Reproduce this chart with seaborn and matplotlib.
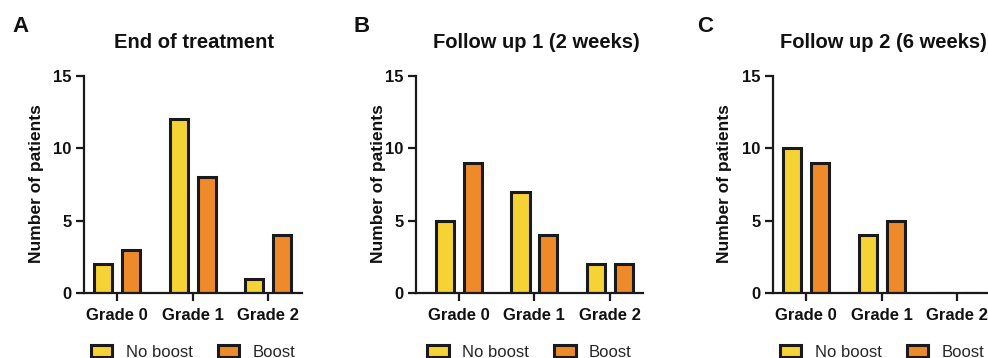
import pandas as pd
import seaborn as sns
import matplotlib.pyplot as plt
from matplotlib.patches import Patch

grades = ["Grade 0", "Grade 1", "Grade 2"]
groups = ["No boost", "Boost"]
titles = ["End of treatment", "Follow up 1 (2 weeks)", "Follow up 2 (6 weeks)"]
panel_letters = ["A", "B", "C"]

end_no_boost = [2, 12, 1]
end_boost = [3, 8, 4]
fu1_no_boost = [5, 7, 2]
fu1_boost = [9, 4, 2]
fu2_no_boost = [10, 4, 0]
fu2_boost = [9, 5, 0]

yticks = [0, 5, 10, 15]
colors = {"No boost": "#F5D334", "Boost": "#EE8A2A"}
edge = "#1a1a1a"

series = [(end_no_boost, end_boost), (fu1_no_boost, fu1_boost), (fu2_no_boost, fu2_boost)]

sns.set_theme(style="ticks")
plt.rcParams["font.family"] = ["Liberation Sans", "DejaVu Sans"]

fig = plt.figure(figsize=(9.88, 3.58), dpi=100)
W, H = 988, 358

# axes boxes in pixels: left, right, and x-limits
boxes = [(84, 302, (-0.44, 2.45)), (416, 643, (-0.57, 2.44)), (773, 991, (-0.44, 2.45))]
top_px, bottom_px = 76, 293
title_x = [194, 536, 883]
letter_x = [20, 362, 705]
ylabel_x = [37, 378, 725]

for i, ((l, r, xlim), (nb, b)) in enumerate(zip(boxes, series)):
    ax = fig.add_axes([l / W, (H - bottom_px) / H, (r - l) / W, (bottom_px - top_px) / H])
    df = pd.DataFrame({
        "Grade": grades * 2,
        "Group": [groups[0]] * 3 + [groups[1]] * 3,
        "Patients": nb + b,
    })
    sns.barplot(data=df, x="Grade", y="Patients", hue="Group", order=grades,
                hue_order=groups, palette=colors, saturation=1, width=0.74, gap=0.35,
                edgecolor=edge, linewidth=2.2, ax=ax, legend=False, errorbar=None)
    ax.set_xlim(*xlim)
    ax.set_ylim(0, 15)
    ax.set_yticks(yticks)
    ax.set_xlabel("")
    ax.set_ylabel("")
    sns.despine(ax=ax)
    for s in ["left", "bottom"]:
        ax.spines[s].set_linewidth(1.6)
        ax.spines[s].set_color(edge)
    ax.tick_params(axis="both", length=6, width=1.6, color=edge, labelsize=12)
    ax.tick_params(axis="y", pad=3)
    ax.tick_params(axis="x", pad=5)
    for lab in ax.get_xticklabels() + ax.get_yticklabels():
        lab.set_fontweight("bold")
        lab.set_color("#111111")

    handles = [Patch(facecolor=colors[g], edgecolor=edge, linewidth=2.2, label=g) for g in groups]
    ax.legend(handles=handles, loc="center", bbox_to_anchor=(0.5, -0.272), ncol=2,
              frameon=False, fontsize=12, handlelength=1.3, handleheight=0.7,
              handletextpad=0.8, columnspacing=1.5)

    fig.text(title_x[i] / W, 1 - 42 / H, titles[i], ha="center", va="center",
             fontsize=14.5, fontweight="bold", color="#111111")
    fig.text(letter_x[i] / W, 1 - 27 / H, panel_letters[i], ha="center", va="center",
             fontsize=16, fontweight="bold", color="#111111")
    fig.text(ylabel_x[i] / W, 1 - 184 / H, "Number of patients", ha="center", va="center",
             rotation=90, fontsize=12.5, fontweight="bold", color="#111111")

fig.savefig("out.png", dpi=100)
